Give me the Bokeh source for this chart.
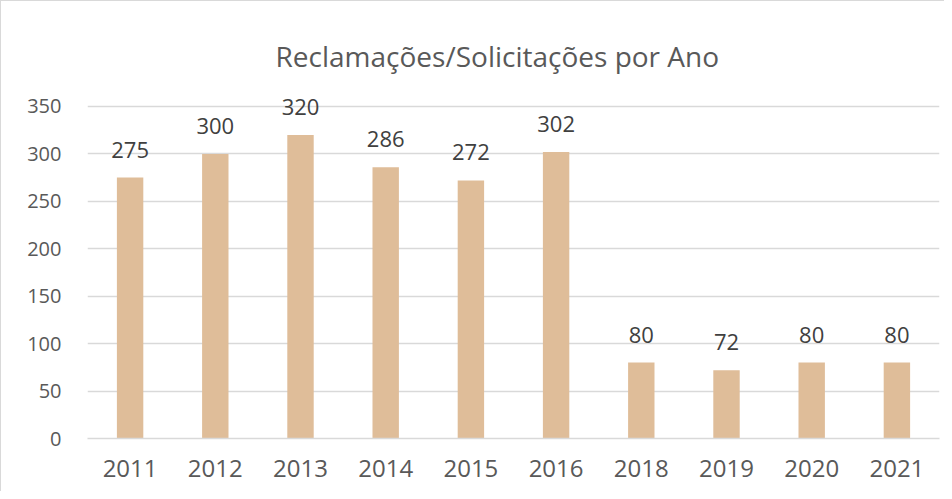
from bokeh.plotting import figure
from bokeh.models import ColumnDataSource, FixedTicker, Label
from bokeh.embed import file_html
from bokeh.resources import INLINE

years = ["2011", "2012", "2013", "2014", "2015", "2016", "2018", "2019", "2020", "2021"]
counts = [275, 300, 320, 286, 272, 302, 80, 72, 80, 80]
y_ticks = [0, 50, 100, 150, 200, 250, 300, 350]
title_text = "Reclamações/Solicitações por Ano"

FONT = "Open Sans"
source = ColumnDataSource(dict(year=years, count=counts, label=[str(c) for c in counts]))

# frame extends to the top of the canvas so that the labels above 350 are not clipped
p = figure(x_range=years, y_range=(0, 459.6), width=944, height=491,
           output_backend="svg", toolbar_location=None,
           min_border_left=86, min_border_right=6, min_border_top=1, min_border_bottom=54)

title = Label(x=4.81, y=402.7, text=title_text, text_align="center", text_baseline="middle",
              text_font=FONT, text_font_size="28px", text_color="#595959")
p.add_layout(title)

p.vbar(x="year", top="count", width=0.31, source=source,
       fill_color="#DFBD99", line_color=None)

p.text(x="year", y="count", text="label", source=source,
       text_align="center", text_baseline="bottom", y_offset=-20,
       text_font={"value": FONT}, text_font_size="22px", text_color="#404040")

p.outline_line_color = None
p.xgrid.grid_line_color = None
p.ygrid.grid_line_color = "#D9D9D9"
p.ygrid.grid_line_width = 1.5
p.yaxis.ticker = FixedTicker(ticks=y_ticks)
p.ygrid.ticker = FixedTicker(ticks=y_ticks)

p.yaxis.axis_line_color = None
p.yaxis.major_tick_line_color = None
p.yaxis.minor_tick_line_color = None
p.yaxis.major_label_standoff = 20
p.yaxis.major_label_text_font = FONT
p.yaxis.major_label_text_font_size = "20px"
p.yaxis.major_label_text_color = "#595959"

p.xaxis.axis_line_color = "#D9D9D9"
p.xaxis.axis_line_width = 1.5
p.xaxis.major_tick_line_color = None
p.xaxis.minor_tick_line_color = None
p.xaxis.major_label_standoff = 15
p.xaxis.major_label_text_font = FONT
p.xaxis.major_label_text_font_size = "24px"
p.xaxis.major_label_text_color = "#595959"

p.styles = {"border-left": "1px solid #D9D9D9", "border-top": "1px solid #D9D9D9"}

open("out.html", "w").write(file_html(p, INLINE))
